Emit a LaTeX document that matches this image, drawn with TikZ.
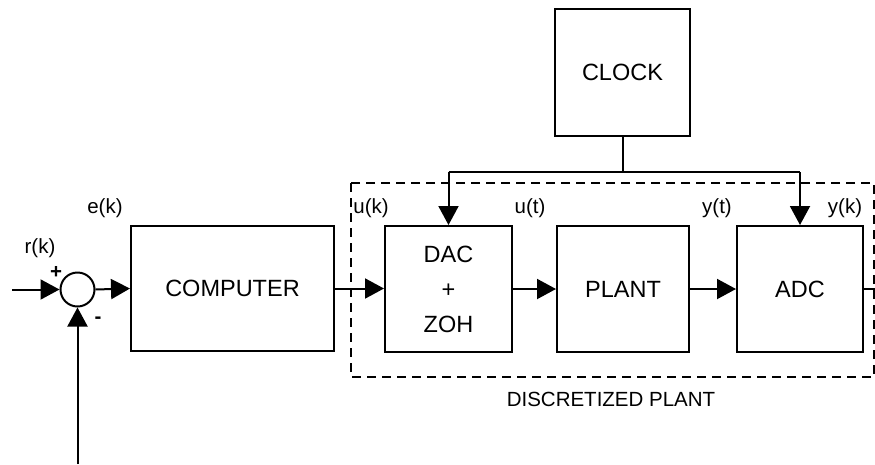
\documentclass[tikz,border=0pt]{standalone}
\usepackage{fontspec}
\setmainfont{Liberation Sans}
\usetikzlibrary{arrows.meta,positioning}
\begin{document}
\begin{tikzpicture}[x=1pt,y=-1pt,
  blk/.style={draw,line width=2pt,inner sep=0pt,font=\fontsize{23.5}{30}\selectfont,align=center},
  lbl/.style={inner sep=0pt,font=\fontsize{20.5}{24}\selectfont},
  conn/.style={line width=2pt},
  arr/.style={line width=2pt,-{Triangle[length=19pt,width=20pt]}},
  dash box/.style={line width=2.8pt,dash pattern=on 9pt off 6pt}]
\useasboundingbox (0,0) rectangle (875,464);
% blocks
\node[blk,minimum width=203pt,minimum height=125pt] (comp) at (232.5,288.5) {COMPUTER};
\node[blk,minimum width=127pt,minimum height=126pt] (dac) at (448.5,289) {DAC\\[5pt]+\\[5pt]ZOH};
\node[blk,minimum width=132pt,minimum height=126pt] (plant) at (623,289) {PLANT};
\node[blk,minimum width=126pt,minimum height=126pt] (adc) at (800,289) {ADC};
\node[blk,minimum width=135pt,minimum height=127pt] (clock) at (622.5,72.5) {CLOCK};
\node[draw,circle,line width=2pt,minimum size=34pt,inner sep=0pt] (sum) at (77.5,289.5) {};
% dashed discretized plant box
\draw[dash box] (351,183) rectangle (874,377);
\node[lbl] (dp) at (611,399) {DISCRETIZED PLANT};
% free ends
\coordinate (rin) at (12,289.5);
\coordinate (fb) at (77.5,464);
\coordinate (yout) at (875,289);
\coordinate (cj) at (clock.south |- 0,172);
\coordinate (cl) at (dac.north |- 0,172);
\coordinate (cr) at (adc.north |- 0,172);
% connectors
\draw[arr] (rin) -- (sum.west);
\draw[arr] (fb) -- (sum.south);
\draw[arr] (sum.east) -- (comp.west);
\draw[arr] (comp.east) -- (comp.east -| dac.west);
\draw[arr] (dac.east) -- (dac.east -| plant.west);
\draw[arr] (plant.east) -- (plant.east -| adc.west);
\draw[conn] (adc.east) -- (yout);
\draw[conn] (clock.south) -- (cj);
\draw[conn] (cl) -- (cr);
\draw[arr] (cl) -- (dac.north);
\draw[arr] (cr) -- (adc.north);
% labels
\node[lbl] (rk) at (40,248) {r(k)};
\node[lbl] (plus) at (56,272) {\textbf{+}};
\node[lbl] (minus) at (98,320) {\textbf{-}};
\node[lbl] (ek) at (105,208) {e(k)};
\node[lbl] (uk) at (371,208) {u(k)};
\node[lbl] (ut) at (530,208) {u(t)};
\node[lbl] (yt) at (717,208) {y(t)};
\node[lbl] (yk) at (845,208) {y(k)};
\end{tikzpicture}
\end{document}
